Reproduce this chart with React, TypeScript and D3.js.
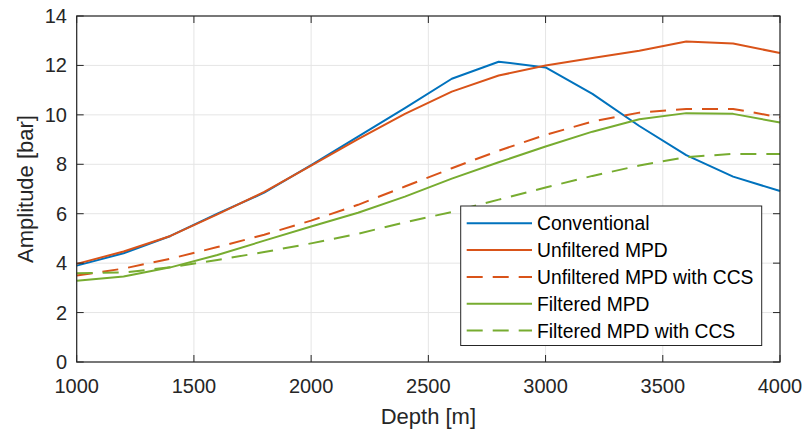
import React from "react";
import * as d3 from "d3";

const depths = [1000, 1200, 1400, 1600, 1800, 2000, 2200, 2400, 2600, 2800, 3000, 3200, 3400, 3600, 3800, 4000];
const conventional = [3.9, 4.4, 5.1, 6.0, 6.85, 7.97, 9.12, 10.27, 11.46, 12.15, 11.92, 10.85, 9.55, 8.37, 7.5, 6.92];
const unfilteredMPD = [3.97, 4.47, 5.1, 5.97, 6.88, 7.95, 9.02, 10.04, 10.94, 11.59, 12.0, 12.3, 12.59, 12.97, 12.89, 12.5];
const unfilteredMPDCCS = [3.5, 3.78, 4.18, 4.65, 5.15, 5.72, 6.36, 7.1, 7.84, 8.55, 9.19, 9.73, 10.09, 10.24, 10.24, 9.9];
const filteredMPD = [3.29, 3.46, 3.83, 4.33, 4.91, 5.48, 6.04, 6.69, 7.42, 8.08, 8.72, 9.32, 9.82, 10.07, 10.04, 9.69];
const filteredMPDCCS = [3.59, 3.62, 3.83, 4.13, 4.45, 4.8, 5.19, 5.65, 6.07, 6.57, 7.06, 7.53, 7.95, 8.29, 8.42, 8.42];

const xTicks = [1000, 1500, 2000, 2500, 3000, 3500, 4000];
const yTicks = [0, 2, 4, 6, 8, 10, 12, 14];

const seriesNames = ["Conventional", "Unfiltered MPD", "Unfiltered MPD with CCS", "Filtered MPD", "Filtered MPD with CCS"];
const seriesValues = [conventional, unfilteredMPD, unfilteredMPDCCS, filteredMPD, filteredMPDCCS];
const seriesColors = ["#0072BD", "#D95319", "#D95319", "#77AC30", "#77AC30"];
const seriesDashed = [false, false, true, false, true];

const W = 806;
const H = 433;
const L = 76.7, R = 780, T = 16, B = 362;
const FONT = "'Liberation Sans', Arial, Helvetica, sans-serif";
const TXT = "#262626";

export default function App() {
  const x = d3.scaleLinear().domain([1000, 4000]).range([L, R]);
  const y = d3.scaleLinear().domain([0, 14]).range([B, T]);
  const line = d3.line<[number, number]>().x((d) => x(d[0])).y((d) => y(d[1]));
  const tickLen = 7;

  const legX = 460.7, legY = 206, legW = 301, legH = 139.5;
  const rowH = 26.8;

  return (
    <svg width={W} height={H} style={{ position: "absolute", left: 0, top: 0, background: "#fff" }} fontFamily={FONT}>
      <rect x={0} y={0} width={W} height={H} fill="#fff" />
      {/* grid */}
      {xTicks.map((t) => (
        <line key={"gx" + t} x1={x(t)} x2={x(t)} y1={T} y2={B} stroke="#e5e5e5" strokeWidth={1} />
      ))}
      {yTicks.map((t) => (
        <line key={"gy" + t} x1={L} x2={R} y1={y(t)} y2={y(t)} stroke="#e5e5e5" strokeWidth={1} />
      ))}
      {/* series */}
      {seriesValues.map((vals, i) => (
        <path
          key={"s" + i}
          d={line(depths.map((d, j) => [d, vals[j]] as [number, number])) || ""}
          fill="none"
          stroke={seriesColors[i]}
          strokeWidth={2}
          strokeDasharray={seriesDashed[i] ? "16 10" : undefined}
          strokeLinejoin="round"
        />
      ))}
      {/* ticks */}
      {xTicks.map((t) => (
        <g key={"tx" + t}>
          <line x1={x(t)} x2={x(t)} y1={B} y2={B - tickLen} stroke={TXT} strokeWidth={1} />
          <line x1={x(t)} x2={x(t)} y1={T} y2={T + tickLen} stroke={TXT} strokeWidth={1} />
          <text x={x(t)} y={393} textAnchor="middle" fontSize={20} fill={TXT}>{t}</text>
        </g>
      ))}
      {yTicks.map((t) => (
        <g key={"ty" + t}>
          <line x1={L} x2={L + tickLen} y1={y(t)} y2={y(t)} stroke={TXT} strokeWidth={1} />
          <line x1={R} x2={R - tickLen} y1={y(t)} y2={y(t)} stroke={TXT} strokeWidth={1} />
          <text x={67} y={y(t) + 7} textAnchor="end" fontSize={20} fill={TXT}>{t}</text>
        </g>
      ))}
      {/* box */}
      <rect x={L} y={T} width={R - L} height={B - T} fill="none" stroke={TXT} strokeWidth={1.2} />
      {/* axis labels */}
      <text x={(L + R) / 2} y={424} textAnchor="middle" fontSize={22} fill={TXT}>Depth [m]</text>
      <text transform={`translate(33,${(T + B) / 2}) rotate(-90)`} textAnchor="middle" fontSize={22} fill={TXT}>Amplitude [bar]</text>
      {/* legend */}
      <rect x={legX} y={legY} width={legW} height={legH} fill="#fff" stroke={TXT} strokeWidth={1} />
      {seriesNames.map((name, i) => {
        const cy = 223.3 + i * rowH;
        return (
          <g key={"lg" + i}>
            <line x1={466.7} x2={532} y1={cy} y2={cy} stroke={seriesColors[i]} strokeWidth={2}
              strokeDasharray={seriesDashed[i] ? "16 10" : undefined} />
            <text x={537} y={cy + 7} fontSize={19.3} fill="#000">{name}</text>
          </g>
        );
      })}
    </svg>
  );
}
